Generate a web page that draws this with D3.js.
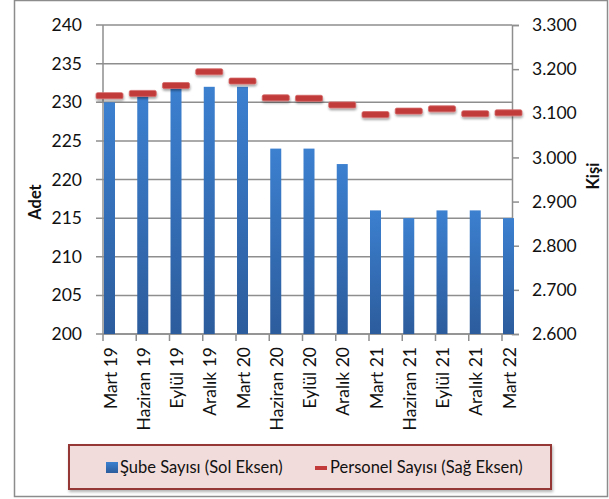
<!DOCTYPE html>
<html>
<head>
<meta charset="utf-8">
<script src="https://cdn.jsdelivr.net/npm/d3@7"></script>
<style>
  body { margin: 0; background: #fff; }
  svg { display: block; font-family: Lato, "Open Sans", sans-serif; }
</style>
</head>
<body>
<svg id="chart"></svg>
<script>
// Full size of the svg element.
const WIDTH = 609;
const HEIGHT = 499;

// Plot area.
const LEFT = 103;
const RIGHT = 512;
const TOP = 25;
const BOTTOM = 334;
const STEP = 33.25; // width of one category slot

const categories = [
  'Mart 19', 'Haziran 19', 'Eylül 19', 'Aralık 19', 'Mart 20', 'Haziran 20',
  'Eylül 20', 'Aralık 20', 'Mart 21', 'Haziran 21', 'Eylül 21', 'Aralık 21', 'Mart 22'
];
const subeValues = [230, 231, 232, 232, 232, 224, 224, 222, 216, 215, 216, 216, 215];
const personelValues = [3140, 3145, 3163, 3194, 3173, 3135, 3134, 3119, 3097, 3105, 3110, 3099, 3101];
const leftTicks = [200, 205, 210, 215, 220, 225, 230, 235, 240];
const rightTicks = [2600, 2700, 2800, 2900, 3000, 3100, 3200, 3300];
const seriesNames = ['Şube Sayısı (Sol Eksen)', 'Personel Sayısı (Sağ Eksen)'];

const svg = d3.select('#chart').attr('width', WIDTH).attr('height', HEIGHT);

const defs = svg.append('defs');
const grad = defs.append('linearGradient')
  .attr('id', 'barGrad').attr('x1', 0).attr('y1', 0).attr('x2', 0).attr('y2', 1);
grad.append('stop').attr('offset', '0%').attr('stop-color', '#3c80d0');
grad.append('stop').attr('offset', '100%').attr('stop-color', '#2c5c9c');

const shadow = defs.append('filter').attr('id', 'shadow')
  .attr('x', '-20%').attr('y', '-50%').attr('width', '140%').attr('height', '250%');
shadow.append('feDropShadow')
  .attr('dx', 0.5).attr('dy', 2).attr('stdDeviation', 1.2)
  .attr('flood-color', '#000').attr('flood-opacity', 0.35);

const boxShadow = defs.append('filter').attr('id', 'boxShadow')
  .attr('x', '-5%').attr('y', '-20%').attr('width', '110%').attr('height', '150%');
boxShadow.append('feDropShadow')
  .attr('dx', 1).attr('dy', 2).attr('stdDeviation', 1.5)
  .attr('flood-color', '#000').attr('flood-opacity', 0.3);

// Outer chart border.
svg.append('rect')
  .attr('x', 14.5).attr('y', 0.5).attr('width', WIDTH - 16).attr('height', HEIGHT - 3)
  .attr('fill', '#fff').attr('stroke', '#8c8c8c').attr('stroke-width', 1.5);

// Scales.
const x = d3.scaleBand()
  .domain(categories)
  .range([LEFT, LEFT + STEP * categories.length])
  .padding(0);
const yLeft = d3.scaleLinear().domain([200, 240]).range([BOTTOM, TOP]);
const yRight = d3.scaleLinear().domain([2600, 3300]).range([BOTTOM, TOP]);

const gridColor = '#8e8e8e';

// Gridlines with outward ticks on the left.
svg.append('g')
  .selectAll('line')
  .data(leftTicks)
  .join('line')
  .attr('x1', 96)
  .attr('x2', RIGHT)
  .attr('y1', d => yLeft(d))
  .attr('y2', d => yLeft(d))
  .attr('stroke', gridColor)
  .attr('stroke-width', 1.5);

// Left axis.
const leftAxis = d3.axisLeft(yLeft).tickValues(leftTicks).tickSize(0).tickPadding(14);
const gl = svg.append('g').attr('transform', `translate(${LEFT - 7},0)`).call(leftAxis);
gl.select('.domain').remove();
gl.selectAll('text').attr('font-size', 17.5).attr('fill', '#111').attr('font-family', 'Lato');
svg.append('line')
  .attr('x1', LEFT).attr('x2', LEFT).attr('y1', TOP).attr('y2', BOTTOM)
  .attr('stroke', gridColor).attr('stroke-width', 1.5);

// Right axis, Turkish number format (3.300).
const trFormat = d3.formatLocale({decimal: ',', thousands: '.', grouping: [3], currency: ['', '']}).format(',');
const rightAxis = d3.axisRight(yRight)
  .tickValues(rightTicks)
  .tickSize(7)
  .tickPadding(13)
  .tickFormat(trFormat);
const gr = svg.append('g').attr('transform', `translate(${RIGHT},0)`).call(rightAxis);
gr.select('.domain').attr('stroke', gridColor).attr('stroke-width', 1.5);
gr.selectAll('line').attr('stroke', gridColor).attr('stroke-width', 1.5);
gr.selectAll('text').attr('font-size', 17.5).attr('fill', '#111').attr('font-family', 'Lato');

// Bottom axis: ticks at category boundaries.
svg.append('line')
  .attr('x1', LEFT).attr('x2', RIGHT).attr('y1', BOTTOM).attr('y2', BOTTOM)
  .attr('stroke', gridColor).attr('stroke-width', 1.5);
svg.append('g')
  .selectAll('line')
  .data(categories)
  .join('line')
  .attr('x1', d => x(d))
  .attr('x2', d => x(d))
  .attr('y1', BOTTOM)
  .attr('y2', BOTTOM + 7)
  .attr('stroke', gridColor)
  .attr('stroke-width', 1.5);

// Bars.
svg.append('g')
  .selectAll('rect')
  .data(subeValues)
  .join('rect')
  .attr('x', (d, i) => x(categories[i]) + 1)
  .attr('width', 11)
  .attr('y', d => yLeft(d))
  .attr('height', d => BOTTOM - yLeft(d))
  .attr('fill', 'url(#barGrad)');

// Personel markers (dashes).
svg.append('g')
  .selectAll('rect')
  .data(personelValues)
  .join('rect')
  .attr('x', (d, i) => x(categories[i]) + 6.5 - 13.5)
  .attr('width', 27)
  .attr('y', d => yRight(d) - 3)
  .attr('height', 6)
  .attr('rx', 1.5)
  .attr('fill', '#c23a3a')
  .attr('stroke', '#d66a6a')
  .attr('stroke-width', 0.8)
  .attr('filter', 'url(#shadow)');

// Category labels.
svg.append('g')
  .selectAll('text')
  .data(categories)
  .join('text')
  .attr('transform', d => `translate(${x(d) + 7.5},347) rotate(-90)`)
  .attr('text-anchor', 'end')
  .attr('dy', '0.35em')
  .attr('font-size', 17.5)
  .attr('fill', '#111')
  .text(d => d);

// Axis titles.
svg.append('text')
  .attr('transform', 'translate(41,202) rotate(-90)')
  .attr('text-anchor', 'middle')
  .attr('font-size', 16.5)
  .attr('font-weight', 'bold')
  .attr('fill', '#111')
  .text('Adet');
svg.append('text')
  .attr('transform', 'translate(599,176) rotate(-90)')
  .attr('text-anchor', 'middle')
  .attr('font-size', 16.5)
  .attr('font-weight', 'bold')
  .attr('fill', '#111')
  .text('Kişi');

// Legend.
const legend = svg.append('g');
legend.append('rect')
  .attr('x', 69).attr('y', 445).attr('width', 482).attr('height', 44)
  .attr('fill', '#f2dcdb').attr('stroke', '#953735').attr('stroke-width', 2)
  .attr('filter', 'url(#boxShadow)');
legend.append('rect')
  .attr('x', 106).attr('y', 462).attr('width', 12).attr('height', 11)
  .attr('fill', 'url(#barGrad)');
legend.append('text')
  .attr('x', 120).attr('y', 473)
  .attr('font-size', 16.5).attr('fill', '#111')
  .text(seriesNames[0]);
legend.append('rect')
  .attr('x', 315).attr('y', 466).attr('width', 12).attr('height', 4)
  .attr('fill', '#c23a3a');
legend.append('text')
  .attr('x', 330).attr('y', 473)
  .attr('font-size', 16.5).attr('fill', '#111')
  .text(seriesNames[1]);
</script>
</body>
</html>
